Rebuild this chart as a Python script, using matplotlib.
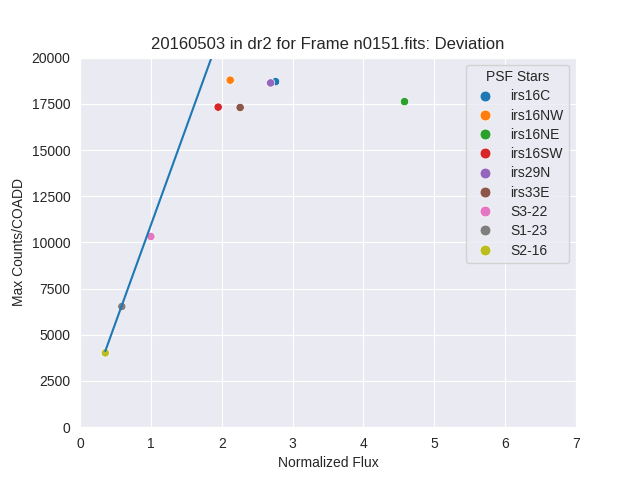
import matplotlib
matplotlib.use("Agg")
import matplotlib.pyplot as plt
import pandas as pd
import seaborn as sns

stars = ["irs16C", "irs16NW", "irs16NE", "irs16SW", "irs29N", "irs33E", "S3-22", "S1-23", "S2-16"]
norm_flux = [2.76, 2.12, 4.58, 1.95, 2.69, 2.26, 1.0, 0.59, 0.357]
max_counts = [18700, 18780, 17620, 17320, 18630, 17300, 10320, 6530, 4020]

# fitted line through the faint stars
line_x = [0.357, 1.95]
line_y = [4120, 21000]

sns.set_style("darkgrid")
plt.rcParams["font.family"] = ["Liberation Sans", "DejaVu Sans"]

fig, ax = plt.subplots(figsize=(6.4, 4.8), dpi=100)
df = pd.DataFrame({"flux": norm_flux, "counts": max_counts, "PSF Stars": stars})
sns.scatterplot(data=df, x="flux", y="counts", hue="PSF Stars", palette="tab10", ax=ax)
ax.plot(line_x, line_y, color="tab:blue")

ax.set_xlim(0, 7)
ax.set_ylim(0, 20000)
ax.set_xlabel("Normalized Flux")
ax.set_ylabel("Max Counts/COADD")
ax.set_title("20160503 in dr2 for Frame n0151.fits: Deviation")
ax.legend(title="PSF Stars", loc="upper right", markerscale=1.3, labelspacing=0.38)

fig.savefig("out.png")
